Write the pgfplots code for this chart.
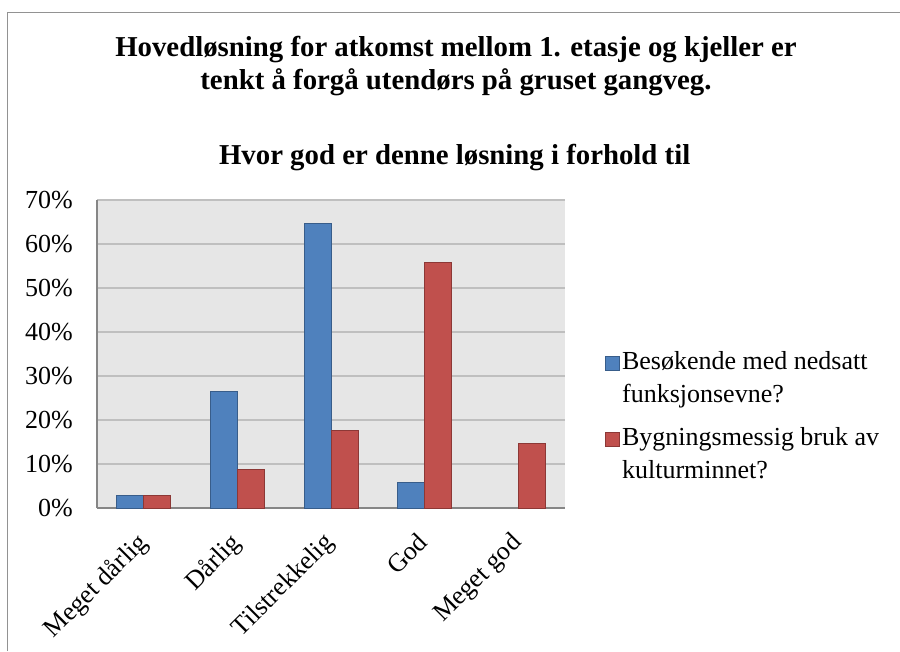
\documentclass[border=0pt]{standalone}
\usepackage{pgfplots}
\pgfplotsset{compat=1.18}
\usepackage{fontspec}
\setmainfont{Liberation Serif}
\definecolor{cblue}{RGB}{79,129,189}
\definecolor{cblueb}{RGB}{56,93,138}
\definecolor{cred}{RGB}{192,80,77}
\definecolor{credb}{RGB}{140,56,54}
\definecolor{grid}{RGB}{134,134,134}
\definecolor{plotbg}{RGB}{230,230,230}
\newcommand{\fs}{\fontsize{19.5}{24.75}\selectfont}
\newcommand{\ft}{\fontsize{21.6}{26}\selectfont\bfseries}
% pixel -> pt : x*0.75, (651-y)*0.75
\begin{document}
\begin{tikzpicture}
\useasboundingbox (0,0) rectangle (675pt,488.25pt);
\draw[grid!90,line width=1.2pt] (5.6pt,0) -- (5.6pt,478.9pt) -- (675pt,478.9pt);
\node[font=\ft,anchor=base] at (342pt,445.5pt) {Hovedløsning for atkomst mellom 1. etasje og kjeller er};
\node[font=\ft,anchor=base] at (342pt,420.75pt) {tenkt å forgå utendørs på gruset gangveg.};
\node[font=\ft,anchor=base] at (341pt,364.5pt) {Hvor god er denne løsning i forhold til};
\begin{axis}[
  at={(72.75pt,107.25pt)}, anchor=south west,
  scale only axis, width=351pt, height=231pt,
  ybar=0pt, bar width=20.25pt,
  xmin=-0.5, xmax=4.5, ymin=0, ymax=70,
  xtick={0,1,2,3,4},
  xticklabels={Meget dårlig,Dårlig,Tilstrekkelig,God,Meget god},
  ytick={0,10,...,70},
  yticklabels={0\%,10\%,20\%,30\%,40\%,50\%,60\%,70\%},
  xmajorgrids=false, ymajorgrids=true,
  tick style={draw=none}, major tick length=0pt,
  grid style={grid, line width=1pt},
  axis x line=bottom, axis y line=left,
  axis line style={-, grid, line width=1.2pt},
  axis background/.style={fill=plotbg},
  tick label style={font=\fs},
  yticklabel style={anchor=east, inner sep=0pt, xshift=-18pt},
  xticklabel style={xshift=-6.5pt, yshift=-17pt, rotate=45, anchor=north east, inner sep=0pt},
  legend style={at={(rel axis cs:1,0.5)}, anchor=west, xshift=26.5pt, yshift=-46.4pt, draw=none, fill=none, font=\fs, cells={align=left, anchor=west}, row sep=13.25pt},
  legend image code/.code={\draw[#1] (-3pt,-0.16cm+10.2pt) rectangle (0.37cm-3pt,0.21cm+10.2pt);},
  clip=false,
]
\addplot[fill=cblue, draw=cblueb, line width=0.6pt] coordinates {(0,2.94) (1,26.47) (2,64.71) (3,5.88)};
\addplot[fill=cred, draw=credb, line width=0.6pt] coordinates {(0,2.94) (1,8.82) (2,17.65) (3,55.88) (4,14.71)};
\legend{{Besøkende med nedsatt\\funksjonsevne?},{Bygningsmessig bruk av\\kulturminnet?}}
\end{axis}
\end{tikzpicture}
\end{document}
